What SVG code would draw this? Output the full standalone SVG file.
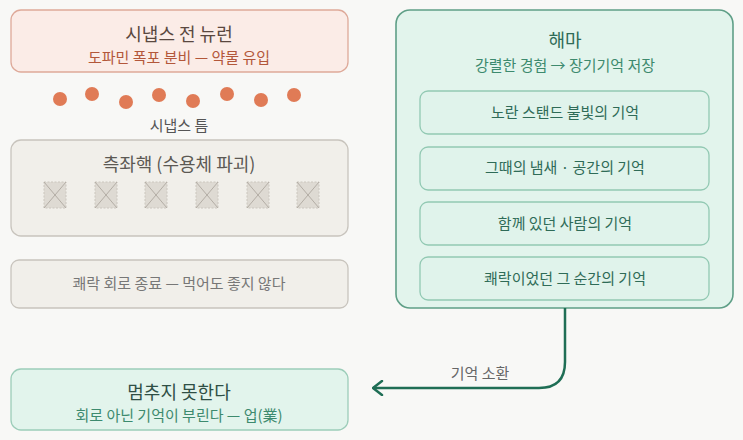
<svg xmlns="http://www.w3.org/2000/svg" width="743" height="440" viewBox="0 0 743 440">
<defs>
<style>
text{font-family:"Noto Sans CJK KR","Noto Sans",sans-serif;text-anchor:middle}
.t{font-size:18px}
.s{font-size:15px}
.rec rect{fill:#dedad3;stroke:#cbc6be;stroke-dasharray:2 1.5;stroke-width:1}
.rec line{stroke:#b3ada5;stroke-width:1}
.mem rect{fill:#e0f3eb;stroke:#92c9b3;stroke-width:1.3}
.mem text{fill:#2f6b57;font-size:15px}
.dot{fill:#e07b56}
</style>
<marker id="ah" viewBox="0 0 12 16" refX="10.5" refY="8" markerWidth="12" markerHeight="16" markerUnits="userSpaceOnUse" orient="auto">
<path d="M1.5 1 L10.5 8 L1.5 15" fill="none" stroke="#1f6e55" stroke-width="2.5" stroke-linecap="round" stroke-linejoin="round"/>
</marker>
</defs>
<rect width="743" height="440" fill="#f8f8f6"/>
<g id="presynaptic">
<rect x="11" y="10" width="337" height="62" rx="10" fill="#fbece7" stroke="#dea999" stroke-width="1.3"/>
<text class="t" x="179" y="41" fill="#5a4840" font-size="19">시냅스 전 뉴런</text>
<text class="s" x="179" y="63" fill="#b3573a">도파민 폭포 분비 — 약물 유입</text>
</g>
<g id="dopamine">
<circle class="dot" cx="60" cy="99" r="7"/>
<circle class="dot" cx="92" cy="94" r="7"/>
<circle class="dot" cx="126" cy="102" r="7"/>
<circle class="dot" cx="159" cy="95" r="7"/>
<circle class="dot" cx="193" cy="101" r="7"/>
<circle class="dot" cx="227" cy="94" r="7"/>
<circle class="dot" cx="261" cy="100" r="7"/>
<circle class="dot" cx="294" cy="95" r="7"/>
</g>
<g id="cleft">
<text class="s" x="179" y="131" fill="#555">시냅스 틈</text>
</g>
<g id="accumbens">
<rect x="11" y="140" width="337" height="96" rx="10" fill="#f1efea" stroke="#c8c4bd" stroke-width="1.3"/>
<text class="t" x="179" y="171" fill="#5c5954">측좌핵 (수용체 파괴)</text>
<g class="rec">
<rect x="44" y="182" width="22" height="26"/><line x1="44" y1="182" x2="66" y2="208"/><line x1="66" y1="182" x2="44" y2="208"/>
<rect x="95" y="182" width="22" height="26"/><line x1="95" y1="182" x2="117" y2="208"/><line x1="117" y1="182" x2="95" y2="208"/>
<rect x="145" y="182" width="22" height="26"/><line x1="145" y1="182" x2="167" y2="208"/><line x1="167" y1="182" x2="145" y2="208"/>
<rect x="196" y="182" width="22" height="26"/><line x1="196" y1="182" x2="218" y2="208"/><line x1="218" y1="182" x2="196" y2="208"/>
<rect x="247" y="182" width="22" height="26"/><line x1="247" y1="182" x2="269" y2="208"/><line x1="269" y1="182" x2="247" y2="208"/>
<rect x="297" y="182" width="22" height="26"/><line x1="297" y1="182" x2="319" y2="208"/><line x1="319" y1="182" x2="297" y2="208"/>
</g>
</g>
<g id="circuit-end">
<rect x="11" y="260" width="337" height="48" rx="8" fill="#f1efea" stroke="#c8c4bd" stroke-width="1.3"/>
<text class="s" x="179" y="289" fill="#777">쾌락 회로 종료 — 먹어도 좋지 않다</text>
</g>
<g id="hippocampus">
<rect x="396" y="10" width="337" height="298" rx="14" fill="#e2f4ec" stroke="#5f9f87" stroke-width="1.6"/>
<text class="t" x="565" y="47" fill="#2f6b57">해마</text>
<text class="s" x="565" y="71" fill="#3d8a6e">강렬한 경험 → 장기기억 저장</text>
</g>
<g id="mem1" class="mem"><rect x="420" y="91" width="289" height="43" rx="8"/><text x="565" y="118">노란 스탠드 불빛의 기억</text></g>
<g id="mem2" class="mem"><rect x="420" y="147" width="289" height="43" rx="8"/><text x="565" y="173">그때의 냄새 · 공간의 기억</text></g>
<g id="mem3" class="mem"><rect x="420" y="202" width="289" height="43" rx="8"/><text x="565" y="229">함께 있던 사람의 기억</text></g>
<g id="mem4" class="mem"><rect x="420" y="257" width="289" height="43" rx="8"/><text x="565" y="284">쾌락이었던 그 순간의 기억</text></g>
<g id="cannot-stop">
<rect x="11" y="369" width="337" height="61" rx="10" fill="#e2f4ec" stroke="#9ccdb9" stroke-width="1.3"/>
<text class="t" x="179" y="399" fill="#2f4f45">멈추지 못한다</text>
<text class="s" x="179" y="421" fill="#3d8a6e">회로 아닌 기억이 부린다 — 업(業)</text>
</g>
<g id="connectors">
<path d="M565 308 L565 362 Q565 388 539 388 L373 388" fill="none" stroke="#1f6e55" stroke-width="2.5" marker-end="url(#ah)"/>
<text x="480" y="379" font-size="15" fill="#666">기억 소환</text>
</g>
</svg>
